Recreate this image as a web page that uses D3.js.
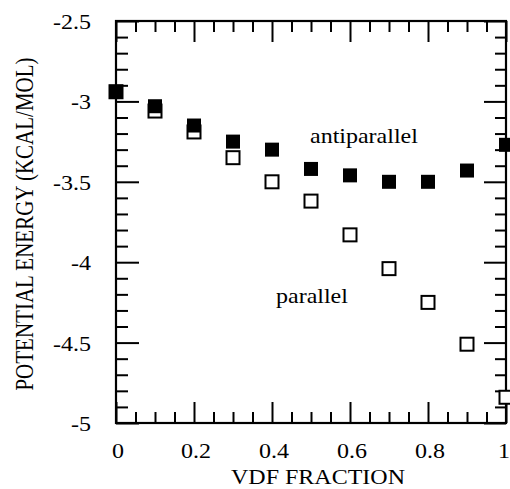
<!DOCTYPE html>
<html>
<head>
<meta charset="utf-8">
<script src="https://cdn.jsdelivr.net/npm/d3@7"></script>
<style>
html,body{margin:0;padding:0;background:#fff;}
svg{display:block;}
</style>
</head>
<body>
<script>
const fractions = [0, 0.1, 0.2, 0.3, 0.4, 0.5, 0.6, 0.7, 0.8, 0.9, 1.0];
const antiparallel = [-2.94, -3.03, -3.15, -3.25, -3.30, -3.42, -3.46, -3.50, -3.50, -3.43, -3.27];
const parallel = [-2.94, -3.06, -3.19, -3.35, -3.50, -3.62, -3.83, -4.04, -4.25, -4.51, -4.84];
const xTicks = [0, 0.2, 0.4, 0.6, 0.8, 1];
const xTickLabels = ["0", "0.2", "0.4", "0.6", "0.8", "1"];
const yTicks = [-2.5, -3, -3.5, -4, -4.5, -5];
const yTickLabels = ["-2.5", "-3", "-3.5", "-4", "-4.5", "-5"];
const xTitle = "VDF FRACTION";
const yTitle = "POTENTIAL ENERGY (KCAL/MOL)";

const W = 510, H = 489;
const L = 116, R = 506, T = 21, B = 423;
const SX = 1.2, FS = 20;
const FONT = "'Liberation Serif', Tinos, 'Times New Roman', 'DejaVu Serif'";

const svg = d3.select("body").append("svg").attr("width", W).attr("height", H);
const x = d3.scaleLinear().domain([0, 1]).range([L, R]);
const y = d3.scaleLinear().domain([-5, -2.5]).range([B, T]);

const xMinor = d3.range(0, 21).map(i => i * 0.05).filter(v => Math.abs(v * 5 - Math.round(v * 5)) > 1e-6);
const yMinor = d3.range(0, 26).map(i => -2.5 - i * 0.1).filter(v => Math.abs(v * 2 - Math.round(v * 2)) > 1e-6);

function styleAxis(g) {
  g.select(".domain").remove();
  g.selectAll(".tick line").attr("stroke", "#000").attr("stroke-width", 2);
  g.selectAll(".tick text").remove();
}
const fmt = () => "";
svg.append("g").attr("transform", `translate(0,${B})`).call(d3.axisBottom(x).tickValues(xTicks).tickSize(-21).tickFormat(fmt)).call(styleAxis);
svg.append("g").attr("transform", `translate(0,${B})`).call(d3.axisBottom(x).tickValues(xMinor).tickSize(-11).tickFormat(fmt)).call(styleAxis);
svg.append("g").attr("transform", `translate(0,${T})`).call(d3.axisTop(x).tickValues(xTicks).tickSize(-21).tickFormat(fmt)).call(styleAxis);
svg.append("g").attr("transform", `translate(0,${T})`).call(d3.axisTop(x).tickValues(xMinor).tickSize(-11).tickFormat(fmt)).call(styleAxis);
svg.append("g").attr("transform", `translate(${L},0)`).call(d3.axisLeft(y).tickValues(yTicks).tickSize(-23).tickFormat(fmt)).call(styleAxis);
svg.append("g").attr("transform", `translate(${L},0)`).call(d3.axisLeft(y).tickValues(yMinor).tickSize(-12).tickFormat(fmt)).call(styleAxis);
svg.append("g").attr("transform", `translate(${R},0)`).call(d3.axisRight(y).tickValues(yTicks).tickSize(-22).tickFormat(fmt)).call(styleAxis);
svg.append("g").attr("transform", `translate(${R},0)`).call(d3.axisRight(y).tickValues(yMinor).tickSize(-11).tickFormat(fmt)).call(styleAxis);

svg.append("rect").attr("x", L).attr("y", T).attr("width", R - L).attr("height", B - T)
  .attr("fill", "none").attr("stroke", "#000").attr("stroke-width", 2.2);

function txt(sel) { return sel.attr("font-family", FONT).attr("fill", "#000"); }

// tick labels
svg.selectAll(".ylab").data(yTicks).enter().append("text")
  .attr("transform", (d) => `translate(91,${y(d) + 8}) scale(${SX},1)`)
  .attr("text-anchor", "end").attr("font-size", FS).call(txt)
  .text((d, i) => yTickLabels[i]);
svg.selectAll(".xlab").data(xTicks).enter().append("text")
  .attr("transform", (d) => `translate(${Math.min(x(d) + 2, 504)},458) scale(${SX},1)`)
  .attr("text-anchor", "middle").attr("font-size", FS).call(txt)
  .text((d, i) => xTickLabels[i]);

svg.append("text").attr("transform", `translate(318,484) scale(${SX},1)`)
  .attr("text-anchor", "middle").attr("font-size", FS).call(txt).text(xTitle);
svg.append("text").attr("transform", `translate(33,224) scale(${SX},1) rotate(-90)`)
  .attr("text-anchor", "middle").attr("font-size", 21).call(txt).text(yTitle);

// annotations
svg.append("text").attr("transform", `translate(310,143) scale(${SX},1)`).attr("font-size", FS).call(txt).text("antiparallel");
svg.append("text").attr("transform", `translate(276,303) scale(${SX},1)`).attr("font-size", FS).call(txt).text("parallel");

// markers
const openS = 13, fillS = 14;
svg.selectAll(".par").data(fractions).enter().append("rect")
  .attr("x", (d) => x(d) - openS / 2).attr("y", (d, i) => y(parallel[i]) - openS / 2)
  .attr("width", openS).attr("height", openS)
  .attr("fill", "#fff").attr("stroke", "#000").attr("stroke-width", 2);
svg.selectAll(".anti").data(fractions).enter().append("rect")
  .attr("x", (d) => x(d) - fillS / 2).attr("y", (d, i) => y(antiparallel[i]) - fillS / 2)
  .attr("width", fillS).attr("height", fillS).attr("fill", "#000");
</script>
</body>
</html>
